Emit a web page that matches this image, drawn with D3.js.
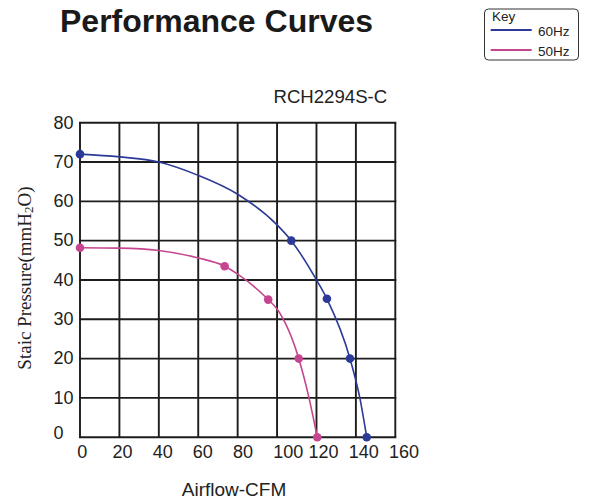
<!DOCTYPE html>
<html><head><meta charset="utf-8">
<script src="https://cdn.jsdelivr.net/npm/d3@7"></script>
<style>
body{margin:0;background:#fff;}
svg{display:block;}
text{font-family:"Liberation Sans",Arial,sans-serif;fill:#222;}
</style></head>
<body><svg id="c" width="589" height="502"></svg>
<script>
// ---- data ----
const xTicks = [0,20,40,60,80,100,120,140,160];
const yTicks = [0,10,20,30,40,50,60,70,80];
const seriesNames = ["60Hz","50Hz"];
// marker points (CFM, mmH2O)
const hz60X = [0,107.2,125.3,137,145.5];
const hz60Y = [72,50,35.2,20,0];
const hz50X = [0,73.4,95.5,111,120.4];
const hz50Y = [48.2,43.5,35,20,0];
// traced curve points
const hz60CurveX = [0,20,40,60,80,100,107.2,120,125.3,137,142,145.5];
const hz60CurveY = [72,71.3,70,66.6,61.8,54,50,40,35.2,20,10,0];
const hz50CurveX = [0,20,40,60,73.4,80,95.5,100,111,116.2,120.4];
const hz50CurveY = [48.2,48.1,47.5,45.6,43.5,41.5,35,32.6,20,10,0];

const colors = {"60Hz":"#2b3a97","50Hz":"#c5468f"};

const svg = d3.select("#c");
const x = d3.scaleLinear().domain([0,160]).range([80,395.3]);
const y = d3.scaleLinear().domain([0,80]).range([437.2,122.7]);
const xLab = d3.scaleLinear().domain([0,160]).range([82.2,404]);

// title
svg.append("text").attr("x",60).attr("y",32).attr("font-size",32).attr("font-weight","bold").style("fill","#1a1a1a").text("Performance Curves");
svg.append("text").attr("x",273.5).attr("y",102.7).attr("font-size",18.6).text("RCH2294S-C");

// grid
const g = svg.append("g");
g.selectAll("line.v").data(xTicks).join("line")
  .attr("x1",d=>x(d)).attr("x2",d=>x(d)).attr("y1",y(80)).attr("y2",y(0))
  .attr("stroke","#1c1c1c").attr("stroke-width",1.9);
g.selectAll("line.h").data(yTicks).join("line")
  .attr("y1",d=>y(d)).attr("y2",d=>y(d)).attr("x1",x(0)-1).attr("x2",x(160)+1)
  .attr("stroke","#1c1c1c").attr("stroke-width",1.9);

// tick labels
svg.selectAll("text.xt").data(xTicks).join("text")
  .attr("x",d=>xLab(d)+(d===100?5:0)).attr("y",457.5).attr("text-anchor","middle")
  .attr("font-size",18).text(d=>d);
svg.selectAll("text.yt").data(yTicks).join("text")
  .attr("x",53.5).attr("y",d=>y(d)+(d===0?1.5:5.8))
  .attr("font-size",18).text(d=>d);

// axis titles
svg.append("text").attr("x",234).attr("y",496).attr("text-anchor","middle").attr("font-size",19).text("Airflow-CFM");
const yl = svg.append("text").attr("transform","translate(31,278) rotate(-90)").attr("text-anchor","middle")
  .style("font-family","'Liberation Serif','Times New Roman',serif").attr("font-size",19);
yl.append("tspan").text("Staic Pressure(mmH");
yl.append("tspan").attr("font-size",13).attr("dy",2).text("2");
yl.append("tspan").attr("dy",-2).text("O)");

// curves
const line = d3.line().x(d=>x(d[0])).y(d=>y(d[1])).curve(d3.curveMonotoneX);
const series = [
  {name:"60Hz", curve:d3.zip(hz60CurveX,hz60CurveY), pts:d3.zip(hz60X,hz60Y)},
  {name:"50Hz", curve:d3.zip(hz50CurveX,hz50CurveY), pts:d3.zip(hz50X,hz50Y)}
];
series.forEach(s=>{
  svg.append("path").attr("d",line(s.curve)).attr("fill","none").attr("stroke",colors[s.name]).attr("stroke-width",1.6);
  svg.selectAll(null).data(s.pts).join("circle")
    .attr("cx",d=>x(d[0])).attr("cy",d=>y(d[1])).attr("r",4.3).attr("fill",colors[s.name]);
});

// legend
const lg = svg.append("g");
lg.append("rect").attr("x",484.5).attr("y",9).attr("width",94).attr("height",51).attr("rx",4)
  .attr("fill","#fff").attr("stroke","#333").attr("stroke-width",1);
lg.append("text").attr("x",492).attr("y",21).attr("font-size",13.5).text("Key");
seriesNames.forEach((n,i)=>{
  lg.append("line").attr("x1",490.7).attr("x2",531.7).attr("y1",30+i*20).attr("y2",30+i*20)
    .attr("stroke",colors[n]).attr("stroke-width",2);
  lg.append("text").attr("x",538).attr("y",36+i*19.5).attr("font-size",13.5).text(n);
});
</script></body></html>
